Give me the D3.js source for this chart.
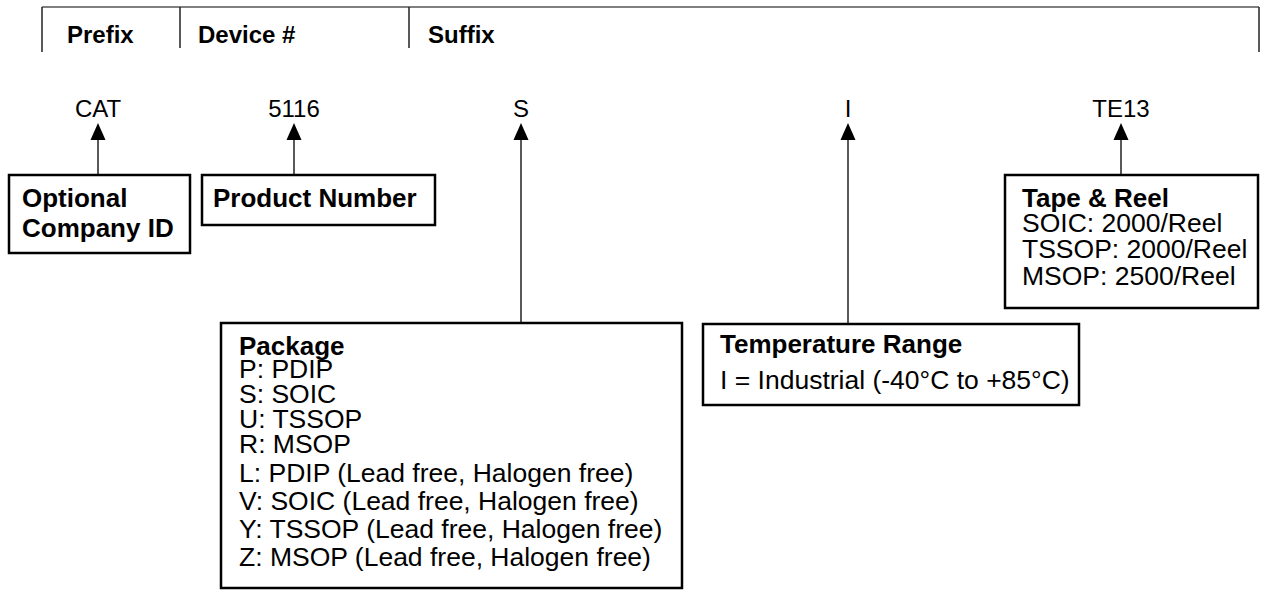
<!DOCTYPE html>
<html>
<head>
<meta charset="utf-8">
<script src="https://cdn.jsdelivr.net/npm/d3@7"></script>
<style>
  body { margin: 0; background: #fff; }
  svg text { font-family: "Liberation Sans", Arial, sans-serif; fill: #000; }
</style>
</head>
<body>
<div id="chart"></div>
<script>
// header labels
var headers = ["Prefix", "Device #", "Suffix"];

// part number fields
var codes = ["CAT", "5116", "S", "I", "TE13"];
var titles = [["Optional", "Company ID"], ["Product Number"], ["Package"], ["Temperature Range"], ["Tape & Reel"]];
var details = [
    [],
    [],
    ["P: PDIP", "S: SOIC", "U: TSSOP", "R: MSOP",
     "L: PDIP (Lead free, Halogen free)", "V: SOIC (Lead free, Halogen free)",
     "Y: TSSOP (Lead free, Halogen free)", "Z: MSOP (Lead free, Halogen free)"],
    ["I = Industrial (-40\u00B0C to +85\u00B0C)"],
    ["SOIC: 2000/Reel", "TSSOP: 2000/Reel", "MSOP: 2500/Reel"]
];

// layout (kept apart from the data)
var width = 1261, height = 590;
var headerX = [67, 198, 428];
var dividerX = [42, 180, 409, 1259];
var codeX = [98, 294, 521, 848, 1121];
var boxes = [
    { x0: 9,    x1: 190,  y0: 175, y1: 253, tx: 22,   ty: [207, 237], dy: [] },
    { x0: 202,  x1: 435,  y0: 175, y1: 225, tx: 213,  ty: [207], dy: [] },
    { x0: 221,  x1: 682,  y0: 323, y1: 588, tx: 239,  ty: [355], dy: [378, 403, 428, 453, 482, 510, 538, 566] },
    { x0: 703,  x1: 1079, y0: 324, y1: 405, tx: 720,  ty: [353], dy: [389] },
    { x0: 1005, x1: 1258, y0: 175, y1: 308, tx: 1022, ty: [207], dy: [232, 258, 285] }
];

var svg = d3.select("#chart").append("svg")
    .attr("width", width)
    .attr("height", height);

// header frame
svg.append("line")
    .attr("x1", dividerX[0]).attr("x2", dividerX[3])
    .attr("y1", 7).attr("y2", 7)
    .attr("stroke", "#555").attr("stroke-width", 1.5);

svg.selectAll("line.div")
    .data(dividerX)
    .enter().append("line")
    .attr("class", "div")
    .attr("x1", function(d) { return d; })
    .attr("x2", function(d) { return d; })
    .attr("y1", 7)
    .attr("y2", function(d, i) { return (i == 0 || i == 3) ? 52 : 48; })
    .attr("stroke", "#222").attr("stroke-width", 1.5);

svg.selectAll("text.head")
    .data(headers)
    .enter().append("text")
    .attr("class", "head")
    .attr("x", function(d, i) { return headerX[i]; })
    .attr("y", 43)
    .style("font-size", "24px")
    .style("font-weight", "bold")
    .text(function(d) { return d; });

// codes
svg.selectAll("text.code")
    .data(codes)
    .enter().append("text")
    .attr("class", "code")
    .attr("x", function(d, i) { return codeX[i]; })
    .attr("y", 117)
    .attr("text-anchor", "middle")
    .style("font-size", "24px")
    .text(function(d) { return d; });

// arrows
var arrows = svg.selectAll("g.arrow")
    .data(codes)
    .enter().append("g")
    .attr("class", "arrow");

arrows.append("line")
    .attr("x1", function(d, i) { return codeX[i]; })
    .attr("x2", function(d, i) { return codeX[i]; })
    .attr("y1", 138)
    .attr("y2", function(d, i) { return boxes[i].y0; })
    .attr("stroke", "#222").attr("stroke-width", 1.5);

arrows.append("path")
    .attr("d", function(d, i) {
        var x = codeX[i];
        return "M" + x + ",123L" + (x + 7.5) + ",140L" + (x - 7.5) + ",140Z";
    })
    .attr("fill", "#000");

// boxes
var g = svg.selectAll("g.box")
    .data(boxes)
    .enter().append("g")
    .attr("class", "box");

g.append("rect")
    .attr("x", function(d) { return d.x0; })
    .attr("y", function(d) { return d.y0; })
    .attr("width", function(d) { return d.x1 - d.x0; })
    .attr("height", function(d) { return d.y1 - d.y0; })
    .attr("fill", "none")
    .attr("stroke", "#000")
    .attr("stroke-width", 2.5);

g.each(function(b, i) {
    var sel = d3.select(this);
    titles[i].forEach(function(t, j) {
        sel.append("text")
            .attr("x", b.tx)
            .attr("y", b.ty[j])
            .style("font-size", "26px")
            .style("font-weight", "bold")
            .text(t);
    });
    details[i].forEach(function(t, j) {
        sel.append("text")
            .attr("x", b.tx)
            .attr("y", b.dy[j])
            .style("font-size", "26.5px")
            .text(t);
    });
});
</script>
</body>
</html>
